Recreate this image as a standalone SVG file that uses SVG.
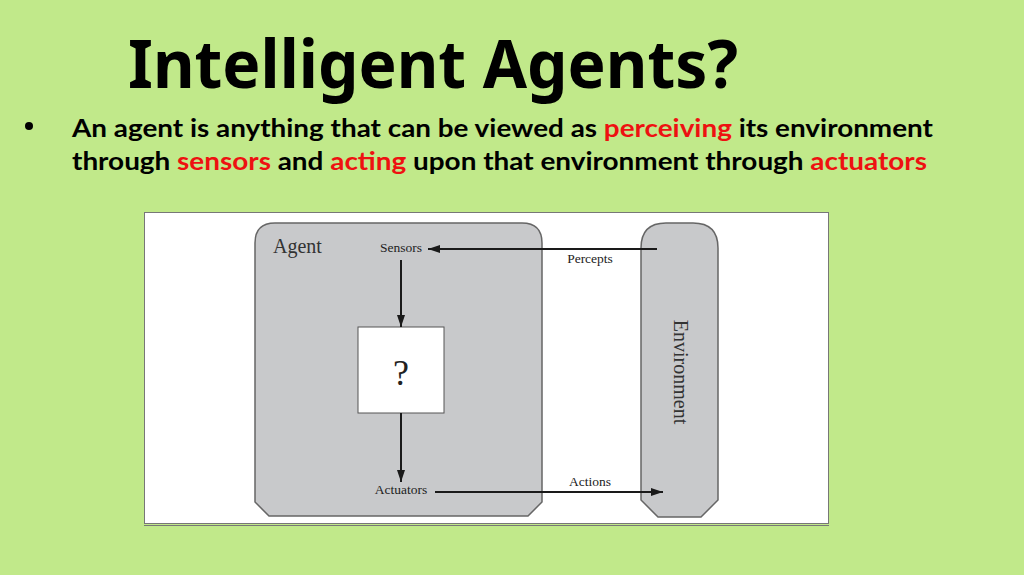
<svg xmlns="http://www.w3.org/2000/svg" width="1024" height="575" viewBox="0 0 1024 575">
<defs>
<marker id="ah" viewBox="0 0 12 8" refX="12" refY="4" markerWidth="12" markerHeight="8" markerUnits="userSpaceOnUse" orient="auto">
<path d="M0,0 L12,4 L0,8 Z" fill="#1a1a1a"/>
</marker>
<style>
.title{font-family:"Noto Sans","Open Sans",sans-serif;font-weight:bold;font-size:66px;fill:#000}
.body{font-family:"Lato","Open Sans",sans-serif;font-weight:bold;font-size:25px;fill:#000}
.red{fill:#ee1111}
.lbl{font-family:"Liberation Serif",serif;font-size:13.5px;fill:#222}
.blk{fill:#c8c9cb;stroke:#666;stroke-width:1.5}
.conn{stroke:#1a1a1a;stroke-width:2;fill:none}
</style>
</defs>
<rect width="1024" height="575" fill="#c1e98a"/>
<text class="title" x="128" y="88" textLength="610" lengthAdjust="spacingAndGlyphs">Intelligent Agents?</text>
<circle cx="29" cy="126" r="4" fill="#000"/>
<text class="body" x="72" y="137" textLength="861" lengthAdjust="spacingAndGlyphs">An agent is anything that can be viewed as <tspan class="red">perceiving</tspan> its environment</text>
<text class="body" x="72" y="170" textLength="855" lengthAdjust="spacingAndGlyphs">through <tspan class="red">sensors</tspan> and <tspan class="red">acting</tspan> upon that environment through <tspan class="red">actuators</tspan></text>
<g id="frame">
<rect x="144.5" y="212.5" width="684" height="311" fill="#fff" stroke="#777" stroke-width="1"/>
<line x1="144" y1="525.5" x2="829" y2="525.5" stroke="#777" stroke-width="1"/>
</g>
<g id="agent">
<path class="blk" d="M255,243 Q255,223 275,223 L522,223 Q542,223 542,243 L542,502 L528,516 L269,516 L255,502 Z"/>
<text x="273" y="253" font-family="Liberation Serif,serif" font-size="20" fill="#333">Agent</text>
</g>
<g id="environment">
<path class="blk" d="M641,248 Q641,223 666,223 L693,223 Q718,223 718,248 L718,500 L701,517 L658,517 L641,500 Z"/>
<text x="679" y="372" font-family="Liberation Serif,serif" font-size="20" fill="#333" text-anchor="middle" transform="rotate(90 679 372)" dominant-baseline="middle">Environment</text>
</g>
<g id="sensors"><text class="lbl" x="401" y="252" text-anchor="middle">Sensors</text></g>
<g id="actuators"><text class="lbl" x="401" y="494" text-anchor="middle">Actuators</text></g>
<g id="agentfn">
<rect x="358" y="327" width="86" height="86" fill="#fff" stroke="#555" stroke-width="1"/>
<text x="401" y="385" font-family="Liberation Serif,serif" font-size="36" fill="#222" text-anchor="middle">?</text>
</g>
<g id="connectors">
<line class="conn" x1="657" y1="249" x2="428" y2="249" marker-end="url(#ah)"/>
<text class="lbl" x="590" y="263" text-anchor="middle">Percepts</text>
<line class="conn" x1="401" y1="260" x2="401" y2="327" marker-end="url(#ah)"/>
<line class="conn" x1="401" y1="413" x2="401" y2="482" marker-end="url(#ah)"/>
<line class="conn" x1="435" y1="492" x2="663" y2="492" marker-end="url(#ah)"/>
<text class="lbl" x="590" y="486" text-anchor="middle">Actions</text>
</g>
</svg>
